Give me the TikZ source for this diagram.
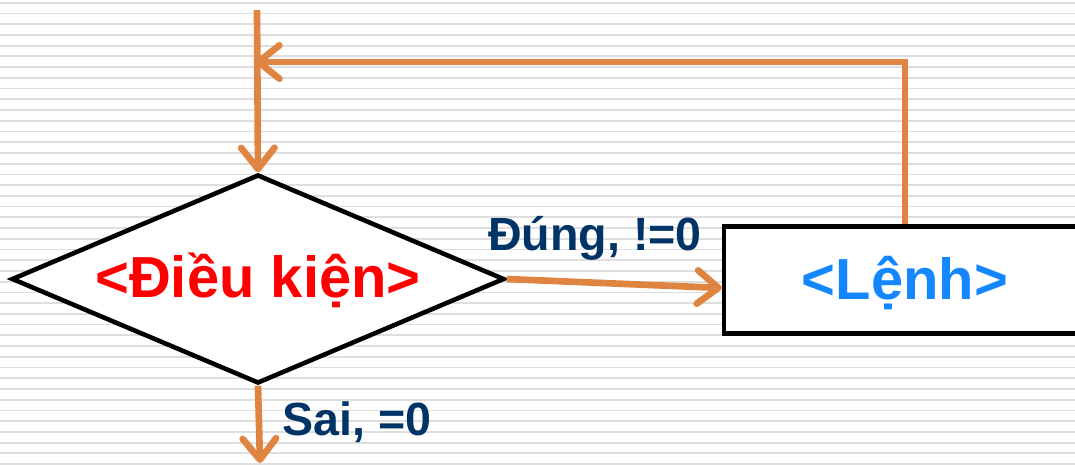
\documentclass[tikz,border=0pt]{standalone}
\usepackage{fontspec}
\setmainfont{Liberation Sans}
\usetikzlibrary{shapes.geometric,arrows.meta}
\definecolor{flow}{RGB}{224,132,66}
\definecolor{labelblue}{RGB}{0,51,102}
\definecolor{cmdblue}{RGB}{20,135,255}
\definecolor{stripe}{RGB}{222,222,222}
\begin{document}
\begin{tikzpicture}[x=0.02cm,y=-0.02cm,
  flowline/.style={draw=flow,line width=3.8pt,
    -{Straight Barb[length=12pt,width=19pt,round]}},
  decision/.style={diamond,draw=black,line width=2.6pt,fill=white,
    minimum width=9.86cm,minimum height=4.18cm,inner sep=0pt},
  process/.style={rectangle,draw=black,line width=2.6pt,fill=white,
    minimum width=7.24cm,minimum height=2.14cm,inner sep=0pt},
  bigtext/.style={font=\fontsize{33}{38}\selectfont\bfseries,inner sep=0pt},
  edgetext/.style={font=\fontsize{26.5}{30}\selectfont\bfseries,
    text=labelblue,inner sep=0pt}]
  \useasboundingbox (0,0) rectangle (1075,464);
  \clip (0,0) rectangle (1075,464);
  % striped background
  \foreach \k in {0,...,43}
    \draw[stripe,line width=1pt] (0,2.7+10.73*\k) -- (1075,2.7+10.73*\k);
  % shapes
  \node[decision] (cond) at (258,279) {};
  \node[bigtext,text=red] (condtext) at ([yshift=-0.02cm]cond.center) {<Điều kiện>};
  \node[process] (cmd) at (905,280) {};
  \node[bigtext,text=cmdblue] (cmdtext) at ([yshift=-0.06cm]cmd.center) {<Lệnh>};
  % free ends of connectors
  \coordinate (start) at (257,10);
  \coordinate (back) at (255,62);
  \coordinate (out) at (260,463);
  % connectors
  \draw[flowline] (start) -- (cond.north);
  \draw[flowline] (cmd.north) |- (back);
  \draw[flowline] (cond.east) -- ([yshift=-0.16cm]cmd.west);
  \draw[flowline] (cond.south) -- (out);
  % branch labels
  \node[edgetext] (yes) at (595,238) {Đúng, !=0};
  \node[edgetext] (no) at (357,422) {Sai, =0};
\end{tikzpicture}
\end{document}
